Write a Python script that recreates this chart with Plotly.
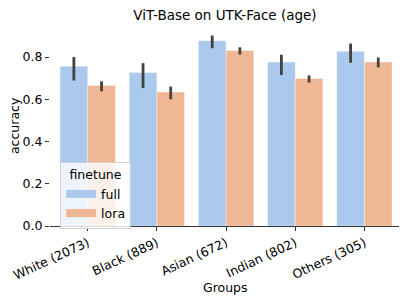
import plotly.graph_objects as go

groups = ["White (2073)", "Black (889)", "Asian (672)", "Indian (802)", "Others (305)"]
full_acc = [0.756, 0.727, 0.877, 0.776, 0.827]
full_lo = [0.689, 0.653, 0.842, 0.715, 0.773]
full_hi = [0.800, 0.771, 0.902, 0.811, 0.864]
lora_acc = [0.665, 0.634, 0.831, 0.699, 0.776]
lora_lo = [0.638, 0.600, 0.812, 0.679, 0.751]
lora_hi = [0.685, 0.660, 0.846, 0.713, 0.798]

blue = "#abc9ec"
orange = "#f0b794"
errc = "#424242"
font = "DejaVu Sans"

fig = go.Figure()
for name, acc, lo, hi, col in [("full", full_acc, full_lo, full_hi, blue),
                               ("lora", lora_acc, lora_lo, lora_hi, orange)]:
    fig.add_trace(go.Bar(
        x=groups, y=acc, name=name, marker=dict(color=col, line=dict(color="rgba(255,255,255,0.6)", width=0.6)),
        showlegend=False,
        error_y=dict(type="data", symmetric=False,
                     array=[h - a for h, a in zip(hi, acc)],
                     arrayminus=[a - l for a, l in zip(acc, lo)],
                     color=errc, thickness=2.8, width=0)))
    fig.add_trace(go.Scatter(x=[None], y=[None], mode="lines", name=name,
                             line=dict(color=col, width=8)))

fig.update_layout(
    width=400, height=296,
    margin=dict(l=42, r=9, t=17.5, b=78, autoexpand=False),
    paper_bgcolor="white", plot_bgcolor="white",
    font=dict(family=font, size=12.5, color="black"),
    title=dict(text="ViT-Base on UTK-Face (age)", x=0.5425, xanchor="center", y=0.977, yanchor="middle",
               font=dict(size=13.5, family=font, color="black")),
    barmode="group", bargap=0.2, bargroupgap=0,
    legend=dict(title=dict(text="finetune", font=dict(size=12.5), side="top center"),
                x=0.029, y=0.32, xanchor="left", yanchor="top",
                bgcolor="rgba(255,255,255,0.8)", bordercolor="#d0d0d0", borderwidth=1,
                font=dict(size=12.5), itemwidth=30, tracegroupgap=0),
    xaxis=dict(range=[-0.545, 4.5], showline=True, linecolor="#333333", linewidth=1.2, automargin=False,
               ticks="outside", ticklen=4, tickcolor="#333333", tickwidth=1.2, tickangle=-25,
               showgrid=False, tickfont=dict(size=12.5)),
    yaxis=dict(range=[0, 0.947], tickvals=[0, 0.2, 0.4, 0.6, 0.8], ticktext=["0.0", "0.2", "0.4", "0.6", "0.8"],
               ticks="outside", ticklen=4, tickcolor="#333333", tickwidth=1.2, showline=False, automargin=False,
               showgrid=False, zeroline=False, tickfont=dict(size=12.5)),
    annotations=[
        dict(text="Groups", xref="paper", yref="paper", x=0.503, y=-0.309, xanchor="center", yanchor="middle",
             showarrow=False, font=dict(size=12.5)),
        dict(text="accuracy", xref="paper", yref="paper", x=-0.103, y=0.5, xanchor="center", yanchor="middle",
             textangle=-90, showarrow=False, font=dict(size=12.5)),
    ],
)

fig.write_html("out.html")
